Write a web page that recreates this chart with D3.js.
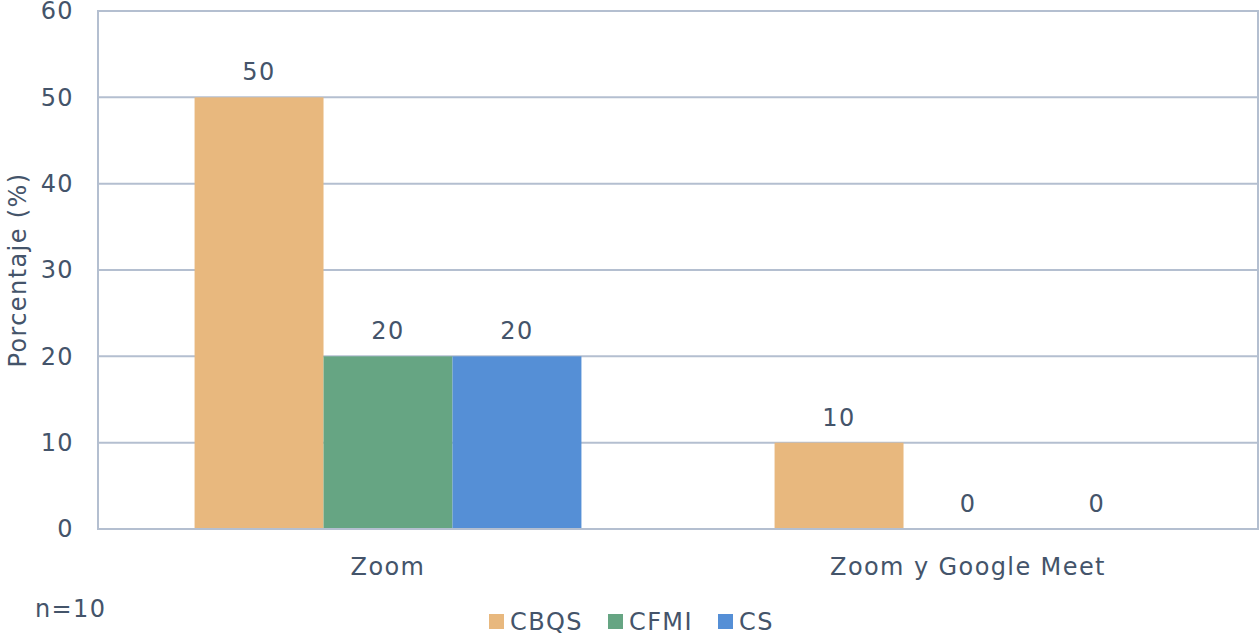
<!DOCTYPE html>
<html>
<head>
<meta charset="utf-8">
<script src="https://cdn.jsdelivr.net/npm/d3@7"></script>
<style>
  body { margin: 0; background: #fff; }
  text { font-family: "DejaVu Sans", Verdana, sans-serif; fill: #44546a; font-size: 24px; letter-spacing: 1.4px; }
</style>
</head>
<body>
<svg width="1260" height="634"></svg>
<script>
var categories = ["Zoom", "Zoom y Google Meet"];
var seriesNames = ["CBQS", "CFMI", "CS"];
var cbqs = [50, 10];
var cfmi = [20, 0];
var cs = [20, 0];
var yTicks = [0, 10, 20, 30, 40, 50, 60];
var colors = ["#e8b87e", "#66a583", "#558fd6"];

var seriesValues = [cbqs, cfmi, cs];
var data = categories.map(function(c, i) {
  return { cat: c, values: seriesNames.map(function(s, j) { return { key: s, value: seriesValues[j][i] }; }) };
});

var svg = d3.select("svg"),
    margin = {top: 11, right: 2, bottom: 105, left: 98},
    width = svg.attr("width") - margin.left - margin.right,
    height = svg.attr("height") - margin.top - margin.bottom,
    g = svg.append("g").attr("transform", "translate(" + margin.left + "," + margin.top + ")");

var x0 = d3.scaleBand().domain(categories).range([0, width]);
var x1 = d3.scaleBand().domain(seriesNames).range([0, x0.bandwidth() * 0.667]);
var y = d3.scaleLinear().domain([0, 60]).range([height, 0]);
var z = d3.scaleOrdinal().domain(seriesNames).range(colors);

var gridColor = "#b4bfd0";

// gridlines
g.selectAll(".grid")
  .data(yTicks)
  .enter().append("line")
    .attr("x1", 0).attr("x2", width)
    .attr("y1", function(d) { return y(d); })
    .attr("y2", function(d) { return y(d); })
    .style("stroke", gridColor)
    .style("stroke-width", 2);

// y labels
g.selectAll(".ylab")
  .data(yTicks)
  .enter().append("text")
    .attr("x", -24)
    .attr("y", function(d) { return y(d); })
    .attr("dy", "0.35em")
    .attr("text-anchor", "end")
    .text(function(d) { return d; });

var groupOffset = (x0.bandwidth() - x1.range()[1]) / 2;

var group = g.selectAll(".group")
  .data(data)
  .enter().append("g")
    .attr("transform", function(d) { return "translate(" + (x0(d.cat) + groupOffset) + ",0)"; });

group.selectAll("rect")
  .data(function(d) { return d.values; })
  .enter().append("rect")
    .attr("x", function(d) { return x1(d.key); })
    .attr("width", x1.bandwidth())
    .attr("y", function(d) { return y(d.value); })
    .attr("height", function(d) { return height - y(d.value); })
    .style("fill", function(d) { return z(d.key); });

group.selectAll(".val")
  .data(function(d) { return d.values; })
  .enter().append("text")
    .attr("x", function(d) { return x1(d.key) + x1.bandwidth() / 2; })
    .attr("y", function(d) { return y(d.value) - 17; })
    .attr("text-anchor", "middle")
    .text(function(d) { return d.value; });

// frame
g.append("rect")
    .attr("x", 0).attr("y", 0)
    .attr("width", width).attr("height", height)
    .style("fill", "none")
    .style("stroke", gridColor)
    .style("stroke-width", 2);

// category labels
g.selectAll(".cat")
  .data(categories)
  .enter().append("text")
    .attr("x", function(d) { return x0(d) + x0.bandwidth() / 2; })
    .attr("y", height + 46)
    .attr("text-anchor", "middle")
    .text(function(d) { return d; });

// y axis title
svg.append("text")
    .attr("transform", "translate(26," + (margin.top + height / 2) + ") rotate(-90)")
    .attr("text-anchor", "middle")
    .text("Porcentaje (%)");

svg.append("text")
    .attr("x", 35).attr("y", 617)
    .text("n=10");

// legend
var legendX = [489, 608, 718];
var legend = svg.selectAll(".legend")
  .data(seriesNames)
  .enter().append("g")
    .attr("transform", function(d, i) { return "translate(" + legendX[i] + ",614)"; });

legend.append("rect")
    .attr("width", 15).attr("height", 15)
    .style("fill", function(d) { return z(d); });

legend.append("text")
    .attr("x", 21).attr("y", 8)
    .attr("dy", "0.35em")
    .text(function(d) { return d; });
</script>
</body>
</html>
